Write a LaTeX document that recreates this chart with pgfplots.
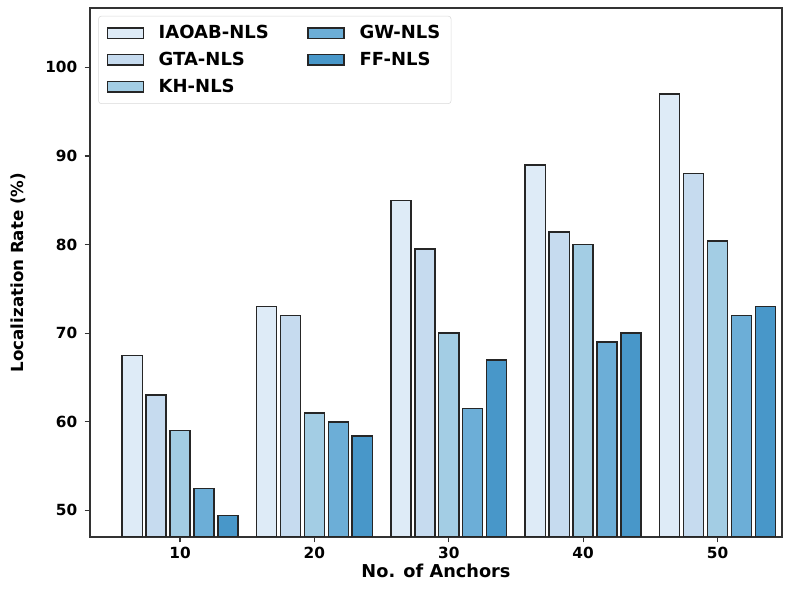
\documentclass[border=0pt]{standalone}
\usepackage{pgfplots}
\pgfplotsset{compat=1.18}
\usepackage{fontspec}
\setmainfont{DejaVu Sans}
\usetikzlibrary{calc}
\definecolor{c1}{HTML}{DEEBF7}
\definecolor{c2}{HTML}{C6DBEF}
\definecolor{c3}{HTML}{A3CDE4}
\definecolor{c4}{HTML}{6CAED7}
\definecolor{c5}{HTML}{4897C9}
\begin{document}
\begin{tikzpicture}
\begin{axis}[
  name=ax,
  scale only axis,
  width=519pt, height=396.75pt,
  xmin=3.3, xmax=54.8,
  ymin=47, ymax=106.7,
  xtick={10,20,30,40,50},
  ytick={50,60,70,80,90,100},
  tick align=outside,
  tick pos=left,
  major tick length=4pt,
  axis line style={line width=1.1pt, draw=black!80},
  every tick/.style={line width=0.9pt, black!80},
  /pgf/number format/assume math mode=true,
  tick label style={font=\bfseries\fontsize{11.5}{13}\selectfont},
  yticklabel style={xshift=-2pt},
  xlabel style={font=\bfseries\fontsize{13.3}{15}\selectfont, yshift=3pt},
  ylabel style={font=\bfseries\fontsize{12.5}{14}\selectfont, yshift=8pt},
  xlabel={No. of Anchors},
  ylabel={Localization Rate (\%)},
  ybar, bar width=1.5,
  legend style={at={(0.012,0.985)}, anchor=north west, draw=black!15, rounded corners=2pt,
    font=\bfseries\fontsize{13.5}{15}\selectfont, inner xsep=6pt, inner ysep=5pt,
    row sep=4.5pt,
    /tikz/every even column/.append style={column sep=27pt}},
  legend columns=3, transpose legend,
  legend cell align=left,
  legend image code/.code={\draw[#1, sharp corners] (0pt,-4pt) rectangle (27pt,4pt); \path (36pt,0pt);},
]
\addplot[draw=black!85, line width=1.1pt, fill=c1, bar shift=-3.56] coordinates {(10,67.5) (20,73) (30,85) (40,89) (50,97)};
\addplot[draw=black!85, line width=1.1pt, fill=c2, bar shift=-1.78] coordinates {(10,63) (20,72) (30,79.5) (40,81.4) (50,88)};
\addplot[draw=black!85, line width=1.1pt, fill=c3, bar shift=0] coordinates {(10,59) (20,61) (30,70) (40,80) (50,80.4)};
\addplot[draw=black!85, line width=1.1pt, fill=c4, bar shift=1.78] coordinates {(10,52.5) (20,60) (30,61.5) (40,69) (50,72)};
\addplot[draw=black!85, line width=1.1pt, fill=c5, bar shift=3.56] coordinates {(10,49.4) (20,58.4) (30,67) (40,70) (50,73)};
\legend{IAOAB-NLS, GTA-NLS, KH-NLS, GW-NLS, FF-NLS}
\end{axis}
\pgfresetboundingbox
\path ($(ax.south west)+(-67.5pt,-42pt)$) rectangle ($(ax.north east)+(10.5pt,6pt)$);
\end{tikzpicture}
\end{document}
